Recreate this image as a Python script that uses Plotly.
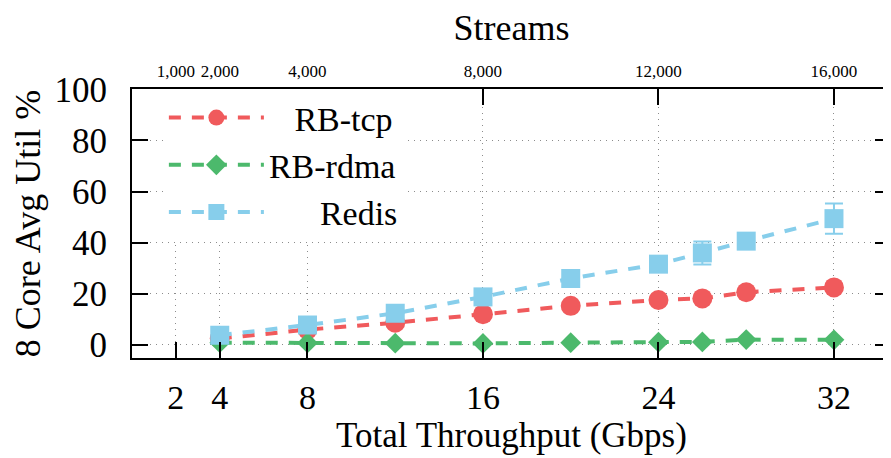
import plotly.graph_objects as go

# ---- data ----
throughput_gbps = [4, 8, 12, 16, 20, 24, 26, 28, 32]
rb_tcp = [2.5, 6.0, 8.7, 12.0, 15.3, 17.6, 18.2, 20.6, 22.5]
rb_rdma = [0.9, 0.8, 0.7, 0.6, 0.9, 1.1, 1.2, 2.1, 2.0]
redis = [3.8, 7.8, 12.4, 18.8, 26.0, 31.6, 36.0, 40.6, 49.4]
redis_err = [0, 0, 0, 0, 0, 0, 4.5, 0, 5.9]

series_names = ["RB-tcp", "RB-rdma", "Redis"]
x_ticks = [2, 4, 8, 16, 24, 32]
x_ticktext = ["2", "4", "8", "16", "24", "32"]
streams_ticks = [1000, 2000, 4000, 8000, 12000, 16000]
streams_ticktext = ["1,000", "2,000", "4,000", "8,000", "12,000", "16,000"]
y_ticks = [0, 20, 40, 60, 80, 100]
streams_per_gbps = 500

# ---- styling ----
FONT = "Liberation Serif"
C_TCP = "#F05A5C"
C_RDMA = "#4CB96C"
C_REDIS = "#87CEEB"
X_MAX = 34.6
Y_RANGE = [-5.1, 100.1]
DASH = "12px,11px"
NB = "\u00a0"
# pad legend labels so they appear right-aligned, like the reference
legend_pad = [3, 0, 6]
legend_labels = [NB * p + n for p, n in zip(legend_pad, series_names)]

fig = go.Figure()

fig.add_trace(go.Scatter(
    x=throughput_gbps, y=rb_tcp, name=legend_labels[0], mode="lines+markers",
    line=dict(color=C_TCP, width=4, dash=DASH),
    marker=dict(symbol="circle", size=20, color=C_TCP),
))
fig.add_trace(go.Scatter(
    x=throughput_gbps, y=rb_rdma, name=legend_labels[1], mode="lines+markers",
    line=dict(color=C_RDMA, width=4, dash=DASH),
    marker=dict(symbol="diamond", size=16, color=C_RDMA),
))
fig.add_trace(go.Scatter(
    x=throughput_gbps, y=redis, name=legend_labels[2], mode="lines+markers",
    line=dict(color=C_REDIS, width=4, dash=DASH),
    marker=dict(symbol="square", size=19, color=C_REDIS),
    error_y=dict(type="data", array=redis_err, visible=True,
                 color=C_REDIS, thickness=2, width=9),
))
# empty trace to anchor the top (streams) axis
fig.add_trace(go.Scatter(x=[], y=[], xaxis="x2", showlegend=False,
                         hoverinfo="skip"))

axis_common = dict(
    showline=True, linecolor="black", linewidth=2,
    ticks="inside", ticklen=16, tickwidth=2, tickcolor="black",
    showgrid=True, gridcolor="#8c8c8c", griddash="1px,5px", gridwidth=1,
    zeroline=False, automargin=False,
)

# the page body has an 8px default margin, so the figure is 8px smaller
fig.update_layout(
    width=883, height=450,
    margin=dict(l=124, r=0, t=81, b=100),
    paper_bgcolor="white", plot_bgcolor="white",
    font=dict(family=FONT, color="black"),
    showlegend=True,
    legend=dict(
        x=0.042, y=1.0, xanchor="left", yanchor="top",
        bgcolor="white", borderwidth=0,
        font=dict(family=FONT, size=34, color="black"),
        itemwidth=95, tracegroupgap=0,
    ),
    xaxis=dict(
        **axis_common,
        range=[0, X_MAX],
        tickvals=x_ticks, ticktext=x_ticktext,
        tickfont=dict(family=FONT, size=34),
        ticklabelstandoff=8,
        title=dict(text="Total Throughput (Gbps)",
                   font=dict(family=FONT, size=35), standoff=5),
    ),
    xaxis2=dict(
        overlaying="x", side="top", anchor="y",
        range=[0, X_MAX * streams_per_gbps],
        showline=True, linecolor="black", linewidth=2,
        ticks="inside", ticklen=16, tickwidth=2, tickcolor="black",
        showgrid=False, zeroline=False, automargin=False,
        tickvals=streams_ticks, ticktext=streams_ticktext,
        tickfont=dict(family=FONT, size=17),
        ticklabelstandoff=3,
        title=dict(text="Streams", font=dict(family=FONT, size=36),
                   standoff=34),
    ),
    yaxis=dict(
        **axis_common,
        mirror="ticks",
        range=Y_RANGE,
        tickvals=y_ticks,
        tickfont=dict(family=FONT, size=35),
        ticklabelstandoff=16,
        title=dict(text="8 Core Avg Util %",
                   font=dict(family=FONT, size=36), standoff=6),
    ),
)

fig.write_html("out.html")
